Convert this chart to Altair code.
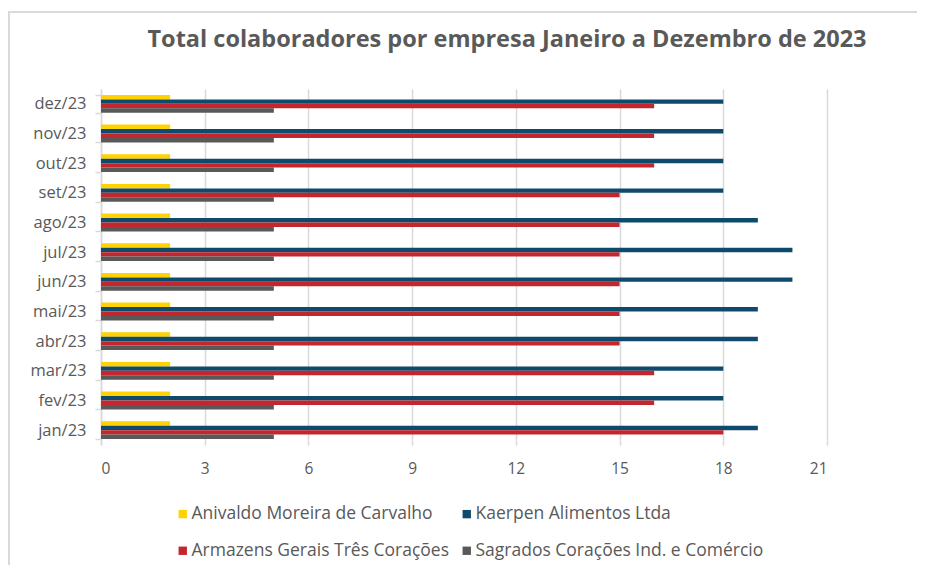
import altair as alt
import pandas as pd

title_text = "Total colaboradores por empresa Janeiro a Dezembro de 2023"
months = ["jan/23", "fev/23", "mar/23", "abr/23", "mai/23", "jun/23",
          "jul/23", "ago/23", "set/23", "out/23", "nov/23", "dez/23"]
series = ["Anivaldo Moreira de Carvalho", "Kaerpen Alimentos Ltda",
          "Armazens Gerais Três Corações", "Sagrados Corações Ind. e Comércio"]
colors = ["#FFD200", "#0E4A6B", "#C4262E", "#595959"]

anivaldo = [2, 2, 2, 2, 2, 2, 2, 2, 2, 2, 2, 2]
kaerpen = [19, 18, 18, 19, 19, 20, 20, 19, 18, 18, 18, 18]
armazens = [18, 16, 16, 15, 15, 15, 15, 15, 15, 16, 16, 16]
sagrados = [5, 5, 5, 5, 5, 5, 5, 5, 5, 5, 5, 5]

x_ticks = [0, 3, 6, 9, 12, 15, 18, 21]

rows = []
for name, vals in zip(series, [anivaldo, kaerpen, armazens, sagrados]):
    for m, v in zip(months, vals):
        rows.append({"mes": m, "empresa": name, "valor": v})
df = pd.DataFrame(rows)

FONT = "Open Sans"
W, H = 726, 356
PAD = {"left": 93, "top": 81, "right": 90, "bottom": 120}

bars = alt.Chart(df).mark_bar().encode(
    x=alt.X("valor:Q",
            scale=alt.Scale(domain=[0, 21], nice=False),
            axis=alt.Axis(values=x_ticks, title=None, domain=False, ticks=False,
                          grid=True, gridColor="#D9D9D9", gridWidth=1.5,
                          labelFont=FONT, labelFontSize=15.5, labelColor="#595959",
                          labelPadding=16)),
    y=alt.Y("mes:N", sort=list(reversed(months)),
            scale=alt.Scale(paddingInner=0.4, paddingOuter=0.2),
            axis=alt.Axis(title=None, domain=True, domainColor="#D9D9D9", domainWidth=1.5,
                          ticks=True, tickBand="extent", tickColor="#D9D9D9", tickSize=6,
                          tickWidth=1.5, labelFont=FONT, labelFontSize=16.5,
                          labelColor="#595959", labelPadding=9, grid=False)),
    yOffset=alt.YOffset("empresa:N", sort=series,
                        scale=alt.Scale(paddingInner=0, paddingOuter=0)),
    color=alt.Color("empresa:N", sort=series,
                    scale=alt.Scale(domain=series, range=colors),
                    legend=alt.Legend(title=None, orient="none", legendX=73, legendY=416,
                                      values=series, direction="horizontal",
                                      columns=2, columnPadding=8, rowPadding=18,
                                      symbolType="square", symbolSize=70,
                                      symbolStrokeWidth=0, labelFont=FONT,
                                      labelFontSize=17.5, labelColor="#595959",
                                      labelLimit=400, labelOffset=0)),
)

frame = alt.Chart(pd.DataFrame({"a": [0]})).mark_rect(
    fill=None, stroke="#D9D9D9", strokeWidth=2, clip=False
).encode(
    x=alt.value(-92), x2=alt.value(900), y=alt.value(-77), y2=alt.value(700)
)

title = alt.Chart(pd.DataFrame({"t": [title_text]})).mark_text(
    font=FONT, fontSize=23.5, fontWeight="bold", color="#595959",
    align="center", baseline="alphabetic", clip=False
).encode(
    text="t:N", x=alt.value(406), y=alt.value(-42)
)

chart = alt.layer(frame, title, bars).properties(
    width=W, height=H,
    autosize=alt.AutoSizeParams(type="none"),
    padding=PAD,
).configure_view(stroke=None)

chart.save("out.html", embed_options={"renderer": "svg", "actions": False})
